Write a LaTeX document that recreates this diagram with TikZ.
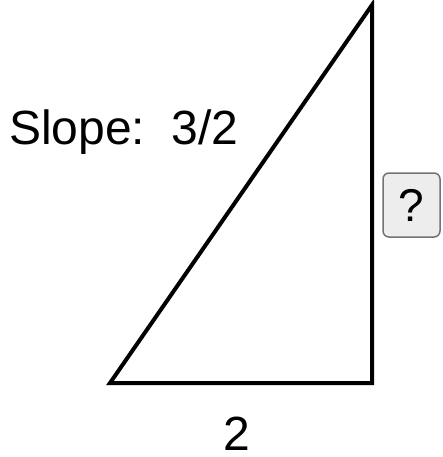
\documentclass[tikz,border=0pt]{standalone}
\usepackage{fontspec}
\setmainfont{Liberation Sans}
\begin{document}
\begin{tikzpicture}[x=1pt,y=1pt,
  edge/.style={line width=4pt, line join=miter, line cap=butt},
  lbl/.style={font=\fontsize{48}{54}\selectfont, inner sep=0pt},
  qbox/.style={draw=black!55, fill=black!7, line width=1.5pt, rounded corners=6pt,
    minimum width=57pt, minimum height=64pt, inner sep=0pt, font=\fontsize{46}{52}\selectfont}]
\useasboundingbox (0,0) rectangle (442,-457);
\coordinate (A) at (110,-383);
\coordinate (B) at (372,-383);
\coordinate (C) at (372,-5);
\draw[edge] (A) -- (B) -- (C) -- cycle;
\node[lbl, anchor=base west] (slope) at (9,-145) {Slope:\ \ 3/2};
\node[lbl, anchor=base] (run) at (237,-450) {2};
\node[qbox] (rise) at (411.5,-205) {?};
\end{tikzpicture}
\end{document}
